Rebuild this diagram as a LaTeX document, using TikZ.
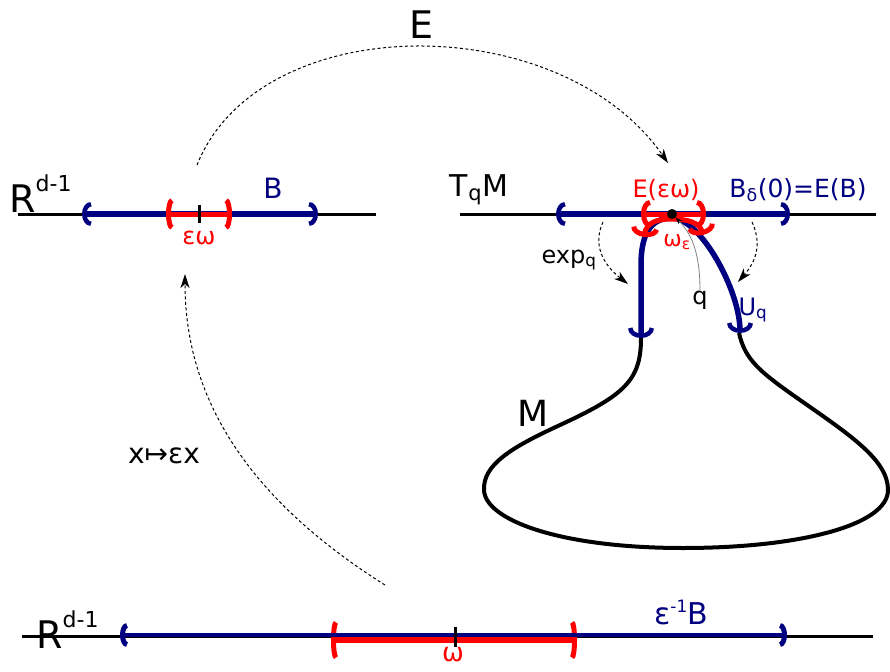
\documentclass[tikz,border=0pt]{standalone}
\usepackage{fontspec}
\setmainfont{DejaVu Sans}
\usetikzlibrary{arrows.meta}
\definecolor{navy}{RGB}{0,0,128}
\newcommand{\fsz}[1]{\fontsize{#1}{#1}\selectfont}
\tikzset{
  axis/.style={draw=black, line width=3pt},
  ballbar/.style={draw=navy, line width=5.5pt},
  patchbar/.style={draw=red, line width=5pt},
  tickmark/.style={draw=black, line width=3pt},
  manifold/.style={draw=black, line width=4pt},
  ballend/.tip={Arc Barb[length=9pt,width=24pt,line width=4.5pt]},
  legend/.tip={Arc Barb[length=10pt,width=26pt,line width=4.5pt]},
  patchend/.tip={Arc Barb[length=6pt,width=32pt,line width=5pt]},
  capend/.tip={Arc Barb[length=9pt,width=28pt,line width=5pt]},
  maparrow/.style={draw=black, line width=1pt, dash pattern=on 3pt off 2.5pt, -{Stealth[length=14pt,width=9pt,inset=4pt]}},
  pointer/.style={draw=gray, line width=0.8pt, -{Stealth[length=7pt,width=5pt,black]}},
  lbl/.style={inner sep=0pt, font=\fsz{24}}
}

\begin{document}
\begin{tikzpicture}[x=1pt,y=-1pt]
  \useasboundingbox (0,0) rectangle (890,671);

  % upper left: the ball B in R^{d-1}
  \draw[axis] (18,214) -- (376,214);
  \draw[ballbar, ballend-ballend] (82,214) -- (318,214);
  \draw[patchbar, patchend-patchend] (166,214) -- (232,214);
  \draw[tickmark] (199,205) -- (199,223);
  \node[lbl, font=\fsz{38}, anchor=base west] (ulR) at (9,212) {R\raisebox{21pt}{\fsz{22}d-1}};
  \node[lbl, font=\fsz{28}, text=navy] (ulB) at (273,188) {B};
  \node[lbl, text=red] (ulpatch) at (199,238) {εω};

  % upper right: tangent space T_qM and the manifold M
  \draw[axis] (460,214) -- (876,214);
  \draw[ballbar, ballend-ballend] (556,214) -- (790,214);
  \draw[manifold] (641,338) .. controls (641,380) and (625,395) .. (560,425)
    .. controls (510,448) and (483,465) .. (484,490)
    .. controls (485,520) and (560,548) .. (683,548)
    .. controls (800,548) and (888,525) .. (888,490)
    .. controls (888,460) and (850,435) .. (800,400)
    .. controls (760,372) and (745,360) .. (739,333);
  \draw[ballbar, -legend] (672,218) .. controls (650,218) and (641,235) .. (641,265) -- (641,338);
  \draw[ballbar, -legend] (672,218) .. controls (700,218) and (740,290) .. (740,333);
  \draw[patchbar, capend-capend] (641,214) -- (706,214);
  \draw[patchbar, capend-capend] (644,237) .. controls (646,222) and (658,219) .. (672,219) .. controls (686,219) and (700,222) .. (703,235);
  \node[circle, fill=black, inner sep=0pt, minimum size=10pt] (q) at (672,214) {};

  \node[lbl, font=\fsz{30}] (TqM) at (479,190) {T\textsubscript{q}M};
  \node[lbl, text=red] (Epatch) at (666,190) {E(εω)};
  \node[lbl, font=\fsz{25}, text=navy] (Bdelta) at (798,190) {B\textsubscript{δ}(0)=E(B)};
  \node[lbl, font=\fsz{22}, text=red] (omeps) at (677,242) {ω\textsubscript{ε}};
  \node[lbl] (expq) at (569,260) {exp\textsubscript{q}};
  \node[lbl] (qlbl) at (700,300) {q};
  \node[lbl, text=navy] (Uq) at (753,310) {U\textsubscript{q}};
  \node[lbl, font=\fsz{36}] (M) at (533,413) {M};

  % bottom: the rescaled ball in R^{d-1}
  \draw[axis] (22,636) -- (873,636);
  \draw[draw=red, line width=6pt, {Arc Barb[length=5pt,width=40pt,line width=5pt]}-{Arc Barb[length=5pt,width=40pt,line width=5pt]}] (331,640) -- (577,640);
  \draw[draw=navy, line width=4pt, {Arc Barb[length=7pt,width=24pt,line width=5pt]}-{Arc Barb[length=7pt,width=24pt,line width=5pt]}] (120,635) -- (787,635);
  \draw[tickmark] (455,627) -- (455,647);
  \node[lbl, font=\fsz{38}, anchor=base west] (loR) at (36,648) {R\raisebox{21pt}{\fsz{22}d-1}};
  \node[lbl, font=\fsz{30}, text=navy, anchor=base west] (loB) at (654,624) {ε\raisebox{12pt}{\fsz{17}-1}B};
  \node[lbl, font=\fsz{26}, text=red] (lopatch) at (453,655) {ω};

  % maps between the pictures
  \coordinate (Estart) at (197,165);
  \coordinate (Eend) at (668,163);
  \coordinate (Sstart) at (385,585);
  \coordinate (Send) at (185,274);
  \draw[maparrow] (Estart) .. controls (260,8) and (560,8) .. (Eend);
  \draw[maparrow] (Sstart) .. controls (250,500) and (185,400) .. (Send);
  \draw[maparrow] (603,222) .. controls (590,250) and (610,270) .. (628,284);
  \draw[maparrow] (752,222) .. controls (765,250) and (750,268) .. (738,282);
  \draw[pointer] (qlbl.north) .. controls (700,250) and (690,232) .. (q);
  \node[lbl, font=\fsz{38}] (Elbl) at (421,25) {E};
  \node[lbl, font=\fsz{28}] (scale) at (164,456) {x↦εx};
\end{tikzpicture}
\end{document}
